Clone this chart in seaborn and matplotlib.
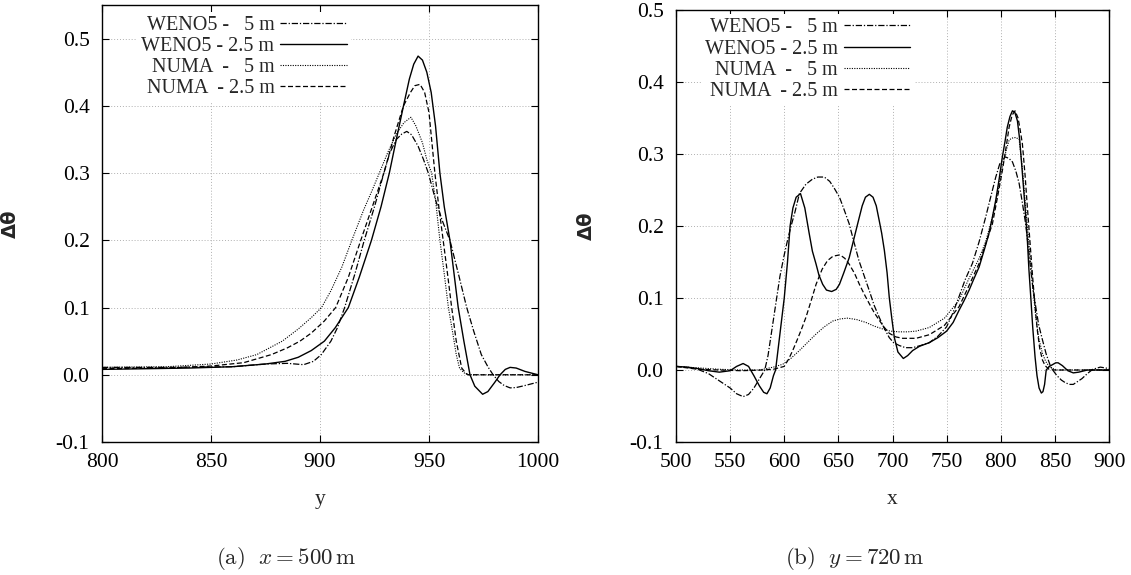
import numpy as np
import pandas as pd
import matplotlib
matplotlib.use("Agg")
import matplotlib.pyplot as plt
import seaborn as sns

# ---- panel (a): x = 500 m, profile along y ----
a_weno5_5_x = [800, 830, 860, 875, 885, 892.5, 897, 900.6, 905, 908, 911.3, 916, 920.3, 925, 929.3, 932, 935,
               937.5, 939.8, 942, 945, 947.5, 949.7, 953, 956, 959.6, 963.5, 967.3, 970.5, 974, 977, 979.4,
               982, 984.5, 987.2, 990, 994, 1000]
a_weno5_5_y = [0.011, 0.011, 0.012, 0.016, 0.017, 0.015, 0.02, 0.03, 0.05, 0.07, 0.1, 0.15, 0.2, 0.25, 0.3, 0.33,
               0.35, 0.358, 0.362, 0.357, 0.34, 0.32, 0.3, 0.26, 0.23, 0.2, 0.15, 0.1, 0.065, 0.03, 0.012, 0.0,
               -0.01, -0.016, -0.0195, -0.019, -0.016, -0.011]

a_weno25_x = [800, 820, 840, 860, 875, 884, 890, 896, 902, 907, 913, 918, 923.6, 928, 931.8, 935, 938.3, 941,
              943, 945, 947, 949, 951, 953, 955, 957, 959.6, 961.5, 963.4, 966, 968.8, 971, 974.6, 977, 980,
              982.6, 985, 987.2, 990, 994, 1000]
a_weno25_y = [0.008, 0.009, 0.01, 0.012, 0.016, 0.02, 0.026, 0.036, 0.05, 0.07, 0.1, 0.145, 0.2, 0.25, 0.3,
              0.35, 0.4, 0.44, 0.462, 0.474, 0.468, 0.45, 0.42, 0.37, 0.3, 0.25, 0.2, 0.15, 0.1, 0.05, 0.0,
              -0.017, -0.029, -0.025, -0.012, 0.0, 0.008, 0.011, 0.01, 0.005, 0.0]

a_numa5_x = [800, 830, 850, 862, 871, 882.7, 890, 896, 900.7, 905, 910, 914.6, 920, 924, 927.2, 931, 935, 938.5,
             941.7, 944, 947, 949, 951.2, 953, 955, 957, 958.9, 961, 962.5, 964, 966, 968, 1000]
a_numa5_y = [0.011, 0.012, 0.016, 0.022, 0.03, 0.05, 0.068, 0.085, 0.1, 0.125, 0.16, 0.2, 0.245, 0.275, 0.3,
             0.33, 0.358, 0.375, 0.383, 0.37, 0.345, 0.32, 0.3, 0.26, 0.2, 0.15, 0.1, 0.06, 0.03, 0.01, 0.003,
             0.0, 0.0]

a_numa25_x = [800, 830, 850, 865, 877.7, 885, 890.8, 896, 902, 907.2, 913, 918.7, 924, 929.3, 934, 938.3, 941.5,
              943.5, 945.9, 948, 950, 952.7, 954.5, 956.5, 958.5, 960.4, 962.5, 965, 967, 968, 1000]
a_numa25_y = [0.009, 0.01, 0.013, 0.018, 0.03, 0.04, 0.05, 0.062, 0.08, 0.1, 0.145, 0.2, 0.25, 0.3, 0.355, 0.4,
              0.42, 0.43, 0.432, 0.42, 0.39, 0.3, 0.25, 0.2, 0.15, 0.1, 0.05, 0.01, 0.002, 0.0, 0.0]

# ---- panel (b): y = 720 m, profile along x ----
b_weno5_5_x = [500, 510, 520, 530, 540, 550, 556, 562, 567, 572, 576, 580, 582, 585, 588, 590, 593, 596, 600,
               603, 606.3, 610, 614, 620, 626, 631, 637, 642, 646, 651, 655, 660, 664, 669, 674, 678.6, 683,
               687.8, 692, 697, 701, 706.3, 712, 718.6, 726, 734, 742, 750, 756, 761.5, 767, 773.8, 780, 786,
               791, 795.4, 799, 804, 807.5, 810.8, 814, 817, 820, 823, 825.5, 827.7, 830, 832.3, 835, 838.5,
               842, 846, 848, 852, 856, 860, 864, 867, 871, 875, 880, 885, 892, 896, 900]
b_weno5_5_y = [0.005, 0.004, 0.001, -0.005, -0.015, -0.025, -0.033, -0.037, -0.034, -0.025, -0.015, -0.005,
               0.0, 0.02, 0.05, 0.07, 0.1, 0.13, 0.16, 0.18, 0.2, 0.22, 0.245, 0.258, 0.265, 0.268, 0.268,
               0.262, 0.253, 0.24, 0.224, 0.203, 0.18, 0.152, 0.13, 0.11, 0.09, 0.073, 0.059, 0.045, 0.038,
               0.034, 0.031, 0.031, 0.034, 0.038, 0.047, 0.06, 0.08, 0.102, 0.125, 0.148, 0.178, 0.212, 0.242,
               0.268, 0.286, 0.296, 0.294, 0.289, 0.276, 0.259, 0.232, 0.203, 0.17, 0.139, 0.11, 0.088, 0.063,
               0.042, 0.022, 0.005, 0.0, -0.008, -0.014, -0.018, -0.02, -0.02, -0.016, -0.012, -0.005, 0.001,
               0.004, 0.003, 0.002]

b_weno25_x = [500, 510, 520, 530, 540, 550, 556, 562, 567, 572, 577, 581, 584, 587, 590, 592, 596, 600, 603,
              605.4, 608, 611, 615, 619, 623, 626, 629.4, 632, 635.5, 639, 643.8, 648, 651, 655, 660, 664,
              667.8, 672, 675, 678.6, 682, 685, 687.8, 690, 692.5, 695, 697, 699.5, 701.7, 705, 710, 714,
              718.6, 725, 734, 742, 750, 756, 761.5, 766, 770.8, 775, 780, 785, 789, 792, 795.4, 798.5, 801.5,
              804, 806, 808.5, 810.8, 813, 815.4, 817.5, 820, 822.5, 824.6, 826, 827.7, 829.5, 831.7, 833.5,
              835.4, 837.5, 839, 840.5, 842, 845, 850.8, 853, 857, 862, 867, 872, 880, 890, 900]
b_weno25_y = [0.005, 0.004, 0.002, -0.001, -0.003, -0.001, 0.005, 0.009, 0.005, -0.008, -0.022, -0.031,
              -0.033, -0.025, -0.008, 0.0, 0.05, 0.1, 0.15, 0.2, 0.225, 0.24, 0.245, 0.225, 0.19, 0.165, 0.147,
              0.132, 0.119, 0.111, 0.109, 0.112, 0.119, 0.135, 0.156, 0.18, 0.203, 0.228, 0.24, 0.244, 0.24,
              0.228, 0.207, 0.19, 0.166, 0.135, 0.101, 0.07, 0.045, 0.025, 0.016, 0.02, 0.027, 0.033, 0.038,
              0.045, 0.054, 0.066, 0.083, 0.096, 0.111, 0.126, 0.143, 0.168, 0.189, 0.21, 0.236, 0.265, 0.296,
              0.318, 0.337, 0.352, 0.36, 0.358, 0.346, 0.32, 0.273, 0.225, 0.18, 0.14, 0.102, 0.06, 0.018,
              -0.008, -0.025, -0.032, -0.03, -0.02, 0.0, 0.005, 0.01, 0.01, 0.006, -0.001, -0.004, -0.003,
              0.0, 0.0, 0.0]

b_numa5_x = [500, 520, 540, 560, 577, 590, 598.6, 606, 614, 622, 629.4, 637, 644.8, 652, 658.6, 667, 675.5, 683,
             690.9, 698, 706.3, 714, 721.7, 734, 748, 761.5, 770, 780, 786, 792.3, 797, 801.5, 805, 807.7, 810,
             814, 817, 820, 823, 825.5, 827.7, 830, 832.3, 835, 838.5, 841.5, 844.6, 850.8, 900]
b_numa5_y = [0.005, 0.003, 0.001, 0.0, 0.0, 0.004, 0.008, 0.016, 0.027, 0.039, 0.05, 0.06, 0.068, 0.071,
             0.072, 0.07, 0.066, 0.061, 0.057, 0.054, 0.053, 0.053, 0.054, 0.059, 0.072, 0.097, 0.125, 0.155,
             0.178, 0.212, 0.245, 0.282, 0.305, 0.319, 0.322, 0.323, 0.32, 0.28, 0.226, 0.185, 0.148, 0.11,
             0.074, 0.045, 0.023, 0.012, 0.005, 0.0, 0.0]

b_numa25_x = [500, 520, 540, 560, 580, 590, 600, 604, 607.8, 612, 616, 620, 625, 629.4, 635, 640, 645, 651.5,
              656, 660, 665, 669.4, 674, 678.6, 683, 687.8, 692, 697, 703, 709.4, 721.7, 734, 748, 761.5, 770,
              780, 786, 792.3, 797, 801.5, 805, 807.7, 810.5, 813.2, 816, 818, 820, 822.5, 824.6, 827, 829.2,
              831.5, 833.8, 836, 838.5, 841, 844.6, 850, 900]
b_numa25_y = [0.005, 0.001, 0.0, -0.001, 0.0, 0.001, 0.005, 0.015, 0.027, 0.042, 0.057, 0.073, 0.097, 0.119,
              0.14, 0.152, 0.158, 0.16, 0.155, 0.147, 0.134, 0.119, 0.105, 0.092, 0.08, 0.069, 0.06, 0.051,
              0.046, 0.044, 0.044, 0.049, 0.062, 0.088, 0.115, 0.148, 0.175, 0.203, 0.24, 0.277, 0.31, 0.337,
              0.354, 0.36, 0.35, 0.333, 0.314, 0.27, 0.226, 0.178, 0.134, 0.092, 0.055, 0.03, 0.014, 0.006,
              0.001, 0.0, 0.0]

labels = ["WENO5 -   5 m", "WENO5 - 2.5 m", "NUMA  -   5 m", "NUMA  - 2.5 m"]
y_ticks = [-0.1, 0.0, 0.1, 0.2, 0.3, 0.4, 0.5]

styles = [
    dict(linestyle=(0, (5, 1.5, 1, 1.5)), lw=0.9),
    dict(linestyle="-", lw=1.0),
    dict(linestyle=(0, (1, 1.2)), lw=0.8),
    dict(linestyle=(0, (4, 2)), lw=0.9),
]

sns.set_style("ticks")
plt.rcParams["font.family"] = ["Liberation Serif", "DejaVu Serif"]
plt.rcParams["axes.unicode_minus"] = False
plt.rcParams["mathtext.fontset"] = "cm"


def draw_panel(ax, series, xlim, ylim, xticks, xlabel, legend_pos):
    for (xs, ys), lab, st in zip(series, labels, styles):
        sns.lineplot(x=xs, y=ys, ax=ax, color="black", label=lab, sort=False, estimator=None, **st)
    ax.set_xlim(*xlim)
    ax.set_ylim(*ylim)
    ax.set_xticks(xticks)
    ax.set_yticks(y_ticks)
    ax.set_yticklabels([f"{v:.1f}" for v in y_ticks])
    ax.grid(True, linestyle=(0, (1, 2)), color="#b0b0b0", lw=0.7)
    ax.set_axisbelow(True)
    ax.tick_params(direction="in", top=True, right=True, length=5, width=0.8,
                   labelsize=15.5, colors="black")
    ax.tick_params(axis="x", pad=8)
    ax.tick_params(axis="y", pad=9)
    for sp in ax.spines.values():
        sp.set_color("black")
        sp.set_linewidth(1.0)
    ax.set_xlabel(xlabel, fontsize=15.5)
    ax.set_ylabel("Δθ", fontsize=14, family="DejaVu Sans", fontweight="bold")
    ax.legend(loc="upper right", bbox_to_anchor=legend_pos, markerfirst=False,
              frameon=True, edgecolor="none", facecolor="white", framealpha=1, fancybox=False,
              fontsize=14.5, handlelength=3.3, handletextpad=0.3, labelspacing=0.1,
              borderpad=0.2, borderaxespad=0)


fig = plt.figure(figsize=(11.31, 5.75), dpi=100)
ax1 = fig.add_axes([102 / 1131, 133 / 575, 436 / 1131, 437 / 575])
ax2 = fig.add_axes([676 / 1131, 133 / 575, 433 / 1131, 432 / 575])

draw_panel(ax1,
           [(a_weno5_5_x, a_weno5_5_y), (a_weno25_x, a_weno25_y),
            (a_numa5_x, a_numa5_y), (a_numa25_x, a_numa25_y)],
           (800, 1000), (-0.1, 0.55), [800, 850, 900, 950, 1000], "y", (0.571, 0.985))
draw_panel(ax2,
           [(b_weno5_5_x, b_weno5_5_y), (b_weno25_x, b_weno25_y),
            (b_numa5_x, b_numa5_y), (b_numa25_x, b_numa25_y)],
           (500, 900), (-0.1, 0.5), [500, 550, 600, 650, 700, 750, 800, 850, 900], "x", (0.55, 0.99))

ax1.yaxis.set_label_coords(-82 / 436, 0.5)
ax2.yaxis.set_label_coords(-80 / 433, 0.5)
ax1.xaxis.set_label_coords(0.5, -48 / 437)
ax2.xaxis.set_label_coords(0.5, -48 / 432)

fig.text(286 / 1131, 1 - 559 / 575, r"$\mathrm{(a)}\ \ x = 500\,\mathrm{m}$", ha="center", va="center", fontsize=16.5)
fig.text(855 / 1131, 1 - 559 / 575, r"$\mathrm{(b)}\ \ y = 720\,\mathrm{m}$", ha="center", va="center", fontsize=16.5)

fig.savefig("out.png", dpi=100)
